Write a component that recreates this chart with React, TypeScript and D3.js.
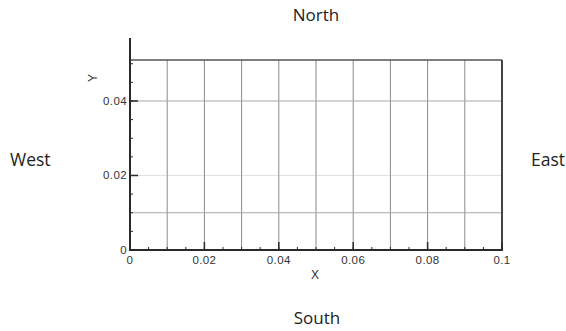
import React from "react";
import * as d3 from "d3";

// Axis extents and tick labels
const xDomain = [0, 0.1];
const yDomain = [0, 0.051];
const xMajorTicks = [0, 0.02, 0.04, 0.06, 0.08, 0.1];
const xTickLabels = ["0", "0.02", "0.04", "0.06", "0.08", "0.1"];
const yMajorTicks = [0, 0.02, 0.04];
const yTickLabels = ["0", "0.02", "0.04"];
const minorStep = 0.005;

// Grid lines
const xGrid = [0.01, 0.02, 0.03, 0.04, 0.05, 0.06, 0.07, 0.08, 0.09];
const yGrid = [0.01, 0.02, 0.04];
const yGridOpacity = [1, 0.35, 1];

// Compass labels around the plot
const compass = ["North", "West", "East", "South"];

const W = 566;
const H = 331;
const left = 130;
const right = 502;
const top = 60;
const bottom = 250;

export default function App() {
  const x = d3.scaleLinear().domain(xDomain).range([left, right]);
  const y = d3.scaleLinear().domain(yDomain).range([bottom, top]);
  const xMinor = d3.range(xDomain[0], xDomain[1] + 1e-9, minorStep);
  const yMinor = d3.range(yDomain[0], yDomain[1], minorStep);
  const tickFont = "'Liberation Sans', Arial, sans-serif";
  const labelFont = "'Open Sans', 'Noto Sans', sans-serif";
  const axisColor = "#2a2a2a";

  return (
    <svg
      width={W}
      height={H}
      style={{ position: "absolute", left: 0, top: 0, background: "#fff" }}
    >
      {/* grid */}
      {xGrid.map((v) => (
        <line key={"gx" + v} x1={x(v)} x2={x(v)} y1={top} y2={bottom} stroke="#8a8a8a" strokeWidth={1} />
      ))}
      {yGrid.map((v, i) => (
        <line
          key={"gy" + v}
          x1={left}
          x2={right}
          y1={y(v)}
          y2={y(v)}
          stroke="#a8a8a8"
          strokeWidth={1}
          opacity={yGridOpacity[i]}
        />
      ))}

      {/* frame */}
      <line x1={left} x2={right} y1={top} y2={top} stroke="#555" strokeWidth={1.5} />
      <line x1={right} x2={right} y1={top} y2={bottom + 1} stroke="#444" strokeWidth={2} />
      <line x1={left} x2={right} y1={bottom} y2={bottom} stroke={axisColor} strokeWidth={2} />
      <line x1={left} x2={left} y1={38} y2={bottom + 1} stroke={axisColor} strokeWidth={2} />

      {/* minor ticks */}
      {xMinor.map((v) => (
        <line key={"xm" + v} x1={x(v)} x2={x(v)} y1={bottom} y2={bottom - 3} stroke={axisColor} strokeWidth={1} />
      ))}
      {yMinor.map((v) => (
        <line key={"ym" + v} x1={left} x2={left + 3} y1={y(v)} y2={y(v)} stroke={axisColor} strokeWidth={1} />
      ))}

      {/* major ticks and labels */}
      {xMajorTicks.map((v, i) => (
        <g key={"xt" + v}>
          <line x1={x(v)} x2={x(v)} y1={bottom} y2={bottom - 8} stroke={axisColor} strokeWidth={1.5} />
          <text
            x={x(v)}
            y={264}
            textAnchor="middle"
            fontFamily={tickFont}
            fontSize={11.5}
            letterSpacing={0.4}
            fill="#333"
          >
            {xTickLabels[i]}
          </text>
        </g>
      ))}
      {yMajorTicks.map((v, i) => (
        <g key={"yt" + v}>
          <line x1={left} x2={left + 8} y1={y(v)} y2={y(v)} stroke={axisColor} strokeWidth={1.5} />
          <text
            x={127}
            y={y(v) + 4}
            textAnchor="end"
            fontFamily={tickFont}
            fontSize={11.5}
            letterSpacing={0.4}
            fill="#333"
          >
            {yTickLabels[i]}
          </text>
        </g>
      ))}

      {/* axis titles */}
      <text x={315} y={279} textAnchor="middle" fontFamily={tickFont} fontSize={12} fill="#333">
        X
      </text>
      <text
        transform="translate(97,78) rotate(-90)"
        textAnchor="middle"
        fontFamily={tickFont}
        fontSize={12}
        fill="#333"
      >
        Y
      </text>

      {/* compass labels */}
      <text x={316} y={21} textAnchor="middle" fontFamily={labelFont} fontSize={17} fill="#222">
        {compass[0]}
      </text>
      <text x={10} y={166} textAnchor="start" fontFamily={labelFont} fontSize={17.5} fill="#222">
        {compass[1]}
      </text>
      <text x={531} y={166} textAnchor="start" fontFamily={labelFont} fontSize={17.5} fill="#222">
        {compass[2]}
      </text>
      <text x={317} y={324} textAnchor="middle" fontFamily={labelFont} fontSize={17} fill="#222">
        {compass[3]}
      </text>
    </svg>
  );
}
